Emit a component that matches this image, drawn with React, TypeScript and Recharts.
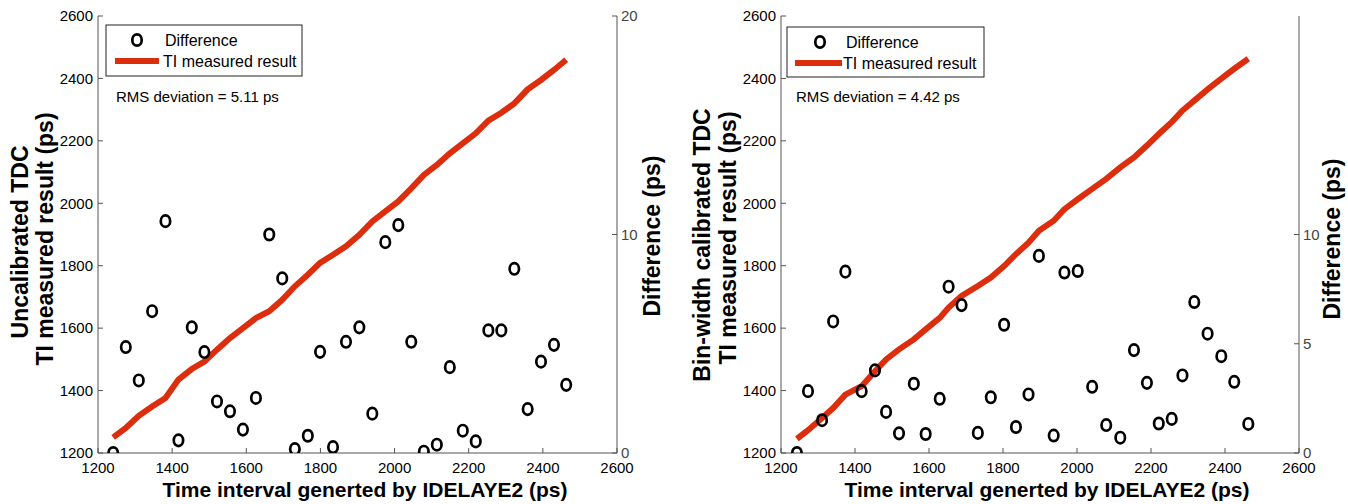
import React from "react";
import { ComposedChart, Line, Scatter, XAxis, YAxis, Customized } from "recharts";

const FONT = "Arial, 'Liberation Sans', Helvetica, sans-serif";
const RED = "#DC2D0C";
const AXIS = "#555555";

// shared axis ticks
const xTicks = [1200, 1400, 1600, 1800, 2000, 2200, 2400, 2600];
const resultTicks = [1200, 1400, 1600, 1800, 2000, 2200, 2400, 2600];

// left panel: uncalibrated TDC
const timeA = [1241, 1275, 1310, 1346, 1382, 1417, 1453, 1487, 1521, 1556, 1591, 1626, 1662, 1697, 1731, 1766, 1799, 1834, 1869, 1905, 1940, 1975, 2010, 2045, 2079, 2114, 2149, 2184, 2219, 2253, 2288, 2323, 2359, 2395, 2430, 2463];
const measuredA = [1250, 1280, 1319, 1349, 1376, 1435, 1469, 1493, 1531, 1568, 1600, 1632, 1654, 1691, 1734, 1771, 1809, 1835, 1862, 1899, 1942, 1974, 2006, 2048, 2091, 2123, 2160, 2192, 2224, 2265, 2290, 2320, 2365, 2395, 2427, 2460];
const diffA = [0, 4.85, 3.32, 6.49, 10.61, 0.58, 5.75, 4.62, 2.36, 1.91, 1.07, 2.52, 10.0, 7.99, 0.18, 0.79, 4.63, 0.27, 5.09, 5.75, 1.8, 9.65, 10.43, 5.09, 0.06, 0.38, 3.93, 1.02, 0.53, 5.61, 5.61, 8.43, 2.01, 4.18, 4.95, 3.12];
const diffTicksA = [0, 10, 20];

// right panel: bin-width calibrated TDC
const timeB = [1243, 1273, 1311, 1341, 1374, 1418, 1454, 1484, 1519, 1559, 1591, 1629, 1653, 1688, 1732, 1767, 1803, 1835, 1869, 1897, 1937, 1966, 2002, 2041, 2079, 2117, 2154, 2189, 2221, 2256, 2285, 2317, 2353, 2390, 2425, 2463];
const measuredB = [1245, 1273, 1312, 1344, 1387, 1414, 1462, 1500, 1532, 1564, 1596, 1633, 1666, 1703, 1735, 1762, 1799, 1837, 1874, 1912, 1944, 1981, 2013, 2046, 2078, 2115, 2147, 2185, 2222, 2260, 2297, 2329, 2365, 2399, 2431, 2463];
const diffB = [0, 2.83, 1.5, 6.02, 8.3, 2.83, 3.78, 1.88, 0.9, 3.17, 0.87, 2.48, 7.61, 6.77, 0.92, 2.55, 5.87, 1.19, 2.68, 9.02, 0.8, 8.26, 8.33, 3.03, 1.28, 0.7, 4.71, 3.21, 1.35, 1.56, 3.55, 6.91, 5.46, 4.43, 3.26, 1.33];
const diffTicksB = [0, 5, 10];

const Ring = (p: any) => {
  if (p.cx == null || p.cy == null) return null;
  return <ellipse cx={p.cx} cy={p.cy} rx={4.7} ry={5.7} fill="none" stroke="#000" strokeWidth={2.7} />;
};

function Overlay({ c }: { c: any }) {
  return (
    <g fontFamily={FONT}>
      <text transform={`translate(${c.t1x},${c.t1y}) rotate(-90)`} textAnchor="middle" dominantBaseline="central" fontSize={23} fontWeight="bold" fill="#000">{c.title1}</text>
      <text transform={`translate(${c.t2x},${c.t2y}) rotate(-90)`} textAnchor="middle" dominantBaseline="central" fontSize={23} fontWeight="bold" fill="#000">TI measured result (ps)</text>
      <text transform={`translate(${c.rx},${c.ry}) rotate(-90)`} textAnchor="middle" dominantBaseline="central" fontSize={23} fontWeight="bold" fill="#000">Difference (ps)</text>
      <text x={c.xx} y={c.xy} textAnchor="middle" dominantBaseline="central" fontSize={21} fontWeight="bold" fill="#000">Time interval generted by IDELAYE2 (ps)</text>
      <rect x={c.bx} y={c.by} width={c.bw} height={c.bh} fill="#fff" stroke="#222" strokeWidth={1} />
      <ellipse cx={c.mx} cy={c.my} rx={4.7} ry={5.7} fill="none" stroke="#000" strokeWidth={2.7} />
      <text x={c.dx} y={c.my} dominantBaseline="central" fontSize={16} fill="#000">Difference</text>
      <line x1={c.lx1} x2={c.lx2} y1={c.ly} y2={c.ly} stroke={RED} strokeWidth={6} />
      <text x={c.tx} y={c.ly} dominantBaseline="central" fontSize={16} fill="#000">TI measured result</text>
      <text x={c.rmsx} y={c.rmsy} dominantBaseline="central" fontSize={15} fill="#000">{c.rms}</text>
    </g>
  );
}

function Panel({ time, measured, diff, diffTicks, leftW, rightW, c }: any) {
  const rows = time.map((t: number, i: number) => ({ t, measured: measured[i], diff: diff[i] }));
  return (
    <ComposedChart width={674} height={504} data={rows} margin={{ top: 16, right: 0, bottom: 0, left: 0 }} style={{ fontFamily: FONT }}>
      <XAxis xAxisId="b" dataKey="t" type="number" domain={[1200, 2600]} ticks={xTicks} interval={0} allowDataOverflow
        height={51} tickSize={-5} tickMargin={14} stroke={AXIS} tick={{ fill: "#000", fontSize: 15 }} />
      <XAxis xAxisId="t" dataKey="t" type="number" orientation="top" domain={[1200, 2600]} ticks={xTicks} interval={0} allowDataOverflow
        height={0} tickSize={-5} stroke={AXIS} tick={false} />
      <YAxis yAxisId="l" type="number" domain={[1200, 2600]} ticks={resultTicks} interval={0} allowDataOverflow
        width={leftW} tickSize={-5} tickMargin={10} stroke={AXIS} tick={{ fill: "#000", fontSize: 15 }} />
      <YAxis yAxisId="lm" type="number" orientation="right" domain={[1200, 2600]} ticks={resultTicks} interval={0} allowDataOverflow
        width={0} tickSize={-5} axisLine={false} stroke={AXIS} tick={false} />
      <YAxis yAxisId="r" type="number" orientation="right" domain={[0, 20]} ticks={diffTicks} interval={0} allowDataOverflow
        width={rightW} tickSize={-5} tickMargin={9} stroke={AXIS} tick={{ fill: "#444", fontSize: 15 }} />
      <Line xAxisId="b" yAxisId="l" type="linear" dataKey="measured" stroke={RED} strokeWidth={6} dot={false} isAnimationActive={false} />
      <Scatter xAxisId="b" yAxisId="r" dataKey="diff" shape={Ring} isAnimationActive={false} />
      <Customized component={<Overlay c={c} />} />
    </ComposedChart>
  );
}

const cfgA = {
  title1: "Uncalibrated TDC", t1x: 20, t1y: 242, t2x: 45, t2y: 239, rx: 652, ry: 236, xx: 365, xy: 489,
  bx: 106, by: 25, bw: 196, bh: 51, mx: 137, my: 40, dx: 165, lx1: 115, lx2: 159, ly: 61, tx: 163,
  rms: "RMS deviation = 5.11 ps", rmsx: 116, rmsy: 96,
};
const cfgB = {
  title1: "Bin-width calibrated TDC", t1x: 28, t1y: 245, t2x: 54, t2y: 238, rx: 658, ry: 239, xx: 373, xy: 489,
  bx: 113, by: 27, bw: 197, bh: 50, mx: 146, my: 42, dx: 172, lx1: 121, lx2: 168, ly: 63, tx: 169,
  rms: "RMS deviation = 4.42 ps", rmsx: 122, rmsy: 96,
};

export default function App() {
  return (
    <div style={{ position: "absolute", left: 0, top: 0, width: 1348, height: 504, background: "#fff", display: "flex" }}>
      <Panel time={timeA} measured={measuredA} diff={diffA} diffTicks={diffTicksA} leftW={98} rightW={57} c={cfgA} />
      <Panel time={timeB} measured={measuredB} diff={diffB} diffTicks={diffTicksB} leftW={107} rightW={49} c={cfgB} />
    </div>
  );
}
